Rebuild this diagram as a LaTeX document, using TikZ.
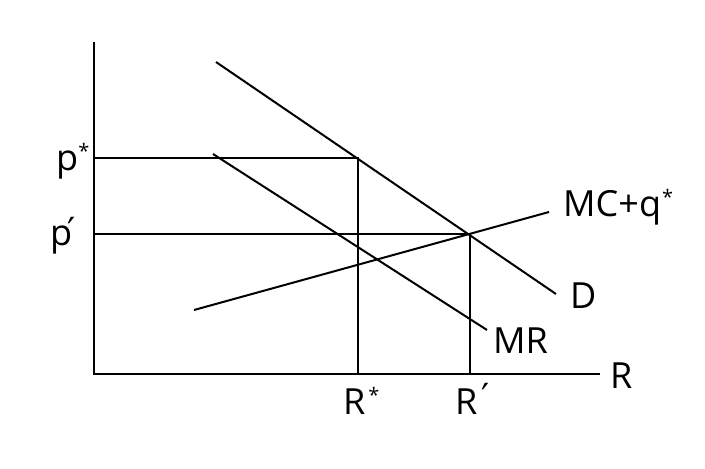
\documentclass[tikz,border=0pt]{standalone}
\usepackage{fontspec}
\setmainfont{Open Sans}
\newfontfamily\dvfont{DejaVu Sans}
\newcommand\sstar{\raisebox{12pt}{\fontsize{20}{20}\selectfont *}}
\newcommand\pprime[2]{\kern#1\raisebox{#2}{\dvfont\fontsize{36}{40}\selectfont ′}}
\begin{document}
\begin{tikzpicture}[x=1pt,y=-1pt,
  ln/.style={line width=2pt,line cap=butt},
  thin/.style={line width=1.6pt},
  lbl/.style={inner sep=0pt,anchor=base west,font=\fontsize{36}{40}\selectfont}]
\useasboundingbox (0,0) rectangle (705,469);
% axes
\coordinate (O) at (94,374);
\coordinate (Ytop) at (94,42);
\coordinate (Xend) at (600,374);
\draw[ln] (Ytop) -- (O) -- (Xend);
% curves
\coordinate (D1) at (216,62);
\coordinate (D2) at (556,294);
\coordinate (MR1) at (213,154);
\coordinate (MR2) at (487,330);
\coordinate (MC1) at (194,310);
\coordinate (MC2) at (549,212);
\draw[ln] (D1) -- (D2);
\draw[ln] (MR1) -- (MR2);
\draw[ln] (MC1) -- (MC2);
% guides
\coordinate (Ps) at (94,158);
\coordinate (Es) at (358,158);
\coordinate (Rs) at (358,374);
\coordinate (Pp) at (94,234);
\coordinate (Ep) at (470,234);
\coordinate (Rp) at (470,374);
\draw[thin] (Ps) -- (Es) -- (Rs);
\draw[thin] (Pp) -- (Ep) -- (Rp);
% labels
\node[lbl] (lps) at (56,170) {p\sstar};
\node[lbl] (lpp) at (50,245) {p\pprime{-5pt}{2pt}};
\node[lbl] (lRs) at (343,414) {R\kern3pt\sstar};
\node[lbl] (lRp) at (455,414) {R\pprime{4pt}{5pt}};
\node[lbl] (lMC) at (563,216) {MC+q\kern1pt\sstar};
\node[lbl] (lD) at (570,308) {D};
\node[lbl] (lMR) at (493,353) {MR};
\node[lbl] (lR) at (610,388) {R};
\end{tikzpicture}
\end{document}
